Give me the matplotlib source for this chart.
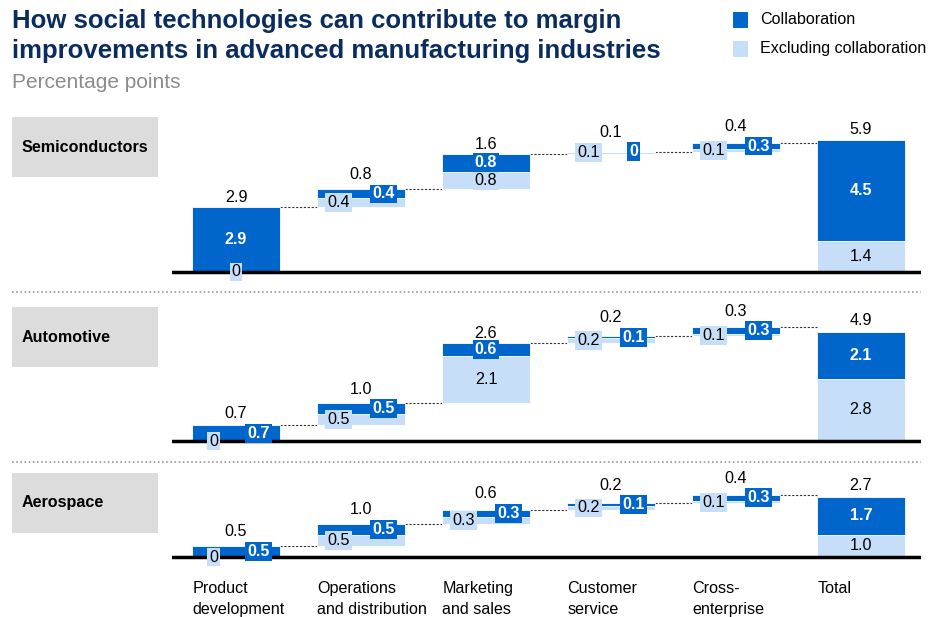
import matplotlib as mpl
import matplotlib.pyplot as plt
from matplotlib.patches import Rectangle
from matplotlib.lines import Line2D

mpl.use("Agg")
plt.rcParams["font.family"] = ["Liberation Sans", "DejaVu Sans"]

# ─── Data ───────────────────────────────────────────────────────────────────
CATEGORIES = ["Product\ndevelopment", "Operations\nand distribution",
              "Marketing\nand sales", "Customer\nservice", "Cross-\nenterprise",
              "Total"]
INDUSTRIES = ["Semiconductors", "Automotive", "Aerospace"]

# excluding collaboration (light) / collaboration (dark) per category
SEMI_EXCL = [0.0, 0.4, 0.8, 0.1, 0.1]
SEMI_COLLAB = [2.9, 0.4, 0.8, 0.0, 0.3]
SEMI_TOP = [2.9, 0.8, 1.6, 0.1, 0.4]
SEMI_TOTAL = (1.4, 4.5, 5.9)

AUTO_EXCL = [0.0, 0.5, 2.1, 0.2, 0.1]
AUTO_COLLAB = [0.7, 0.5, 0.6, 0.1, 0.3]
AUTO_TOP = [0.7, 1.0, 2.6, 0.2, 0.3]
AUTO_TOTAL = (2.8, 2.1, 4.9)

AERO_EXCL = [0.0, 0.5, 0.3, 0.2, 0.1]
AERO_COLLAB = [0.5, 0.5, 0.3, 0.1, 0.3]
AERO_TOP = [0.5, 1.0, 0.6, 0.2, 0.4]
AERO_TOTAL = (1.0, 1.7, 2.7)

# ─── Style ──────────────────────────────────────────────────────────────────
DARK = "#0066CC"
LIGHT = "#C6DEF8"
NAVY = "#0B2C5F"
W, H = 931, 617
PX_PER_UNIT = 22.3
BAR_W = 0.70
FS = 11.6

fig = plt.figure(figsize=(W / 100, H / 100), dpi=100)


def px_axes(left, top, right, bottom):
    return fig.add_axes([left / W, 1 - bottom / H, (right - left) / W, (bottom - top) / H])


def fmt(v):
    return "0" if v == 0 else f"{v:.1f}"


def label(ax, x, y, v, dark):
    ax.text(x, y, fmt(v), ha="center", va="center", fontsize=FS,
            color="white" if dark else "black",
            fontweight="bold" if dark else "normal", zorder=8,
            bbox=dict(boxstyle="square,pad=0.12", fc=DARK if dark else LIGHT, ec="none"))


def draw_panel(ax, excl, collab, tops, total, base_px, top_px, bottom_px):
    ax.set_xlim(-0.512, 5.48)
    ax.set_ylim(-(bottom_px - base_px) / PX_PER_UNIT, (base_px - top_px) / PX_PER_UNIT)
    ax.axis("off")

    lights = list(excl) + [total[0]]
    darks = list(collab) + [total[1]]
    top_vals = list(tops) + [total[2]]
    start = 0.0
    prev_top = None
    for i in range(len(lights)):
        b0 = 0.0 if i == len(lights) - 1 else start
        lo, da = lights[i], darks[i]
        ax.bar(i, lo, bottom=b0, width=BAR_W, color=LIGHT, edgecolor="white",
               linewidth=0.6, zorder=3)
        ax.bar(i, da, bottom=b0 + lo, width=BAR_W, color=DARK, edgecolor="white",
               linewidth=0.6, zorder=3)
        top = b0 + lo + da
        light_mid = b0 + lo / 2
        dark_mid = b0 + lo + da / 2
        if top_vals[i] >= 1.5:
            label(ax, i, light_mid, lo, False)
            label(ax, i, dark_mid, da, True)
            box_top = top
            gap = 0.15 if i == len(lights) - 1 else 0.1
        else:
            label(ax, i - 0.18, light_mid, lo, False)
            label(ax, i + 0.18, dark_mid, da, True)
            box_top = max(top, dark_mid + 0.42)
            gap = 0.12
        ax.text(i, box_top + gap, fmt(top_vals[i]), ha="center", va="bottom",
                fontsize=FS, color="black", zorder=8)
        if prev_top is not None:
            ax.plot([i - 1 + BAR_W / 2, i - BAR_W / 2], [prev_top, prev_top],
                    color="#333333", lw=0.8, ls=(0, (2, 1.5)), zorder=2)
        prev_top = top
        start = top

    ax.axhline(0, color="black", lw=2.5, zorder=6)


panels = [
    (SEMI_EXCL, SEMI_COLLAB, SEMI_TOP, SEMI_TOTAL, 272, 112, 290, 117),
    (AUTO_EXCL, AUTO_COLLAB, AUTO_TOP, AUTO_TOTAL, 441, 300, 460, 307),
    (AERO_EXCL, AERO_COLLAB, AERO_TOP, AERO_TOTAL, 557, 468, 575, 473),
]
axes = []
for (excl, collab, tops, total, base, tp, bt, box_y), name in zip(panels, INDUSTRIES):
    ax = px_axes(172, tp, 921, bt)
    draw_panel(ax, excl, collab, tops, total, base, tp, bt)
    axes.append(ax)
    # grey industry label box
    fig.patches.append(Rectangle((12 / W, 1 - (box_y + 60) / H), 146 / W, 60 / H,
                                 transform=fig.transFigure, facecolor="#DCDCDC",
                                 edgecolor="none", zorder=0))
    fig.text(22 / W, 1 - (box_y + 30) / H, name, fontsize=FS, fontweight="bold",
             color="black", ha="left", va="center")

# dotted separators between panels
for y in (292, 462):
    fig.add_artist(Line2D([12 / W, 921 / W], [1 - y / H, 1 - y / H], color="#999999",
                          lw=1.2, ls=(0, (1, 1.5)), transform=fig.transFigure))

# category labels under the last panel
ax3 = axes[-1]
for i, cat in enumerate(CATEGORIES):
    ax3.text(i - BAR_W / 2 + 0.0, -(581 - 557) / PX_PER_UNIT, cat, ha="left", va="top",
             fontsize=FS, linespacing=1.5, clip_on=False)

# title
fig.text(12 / W, 1 - 9 / H, "How social technologies can contribute to margin\n"
         "improvements in advanced manufacturing industries",
         fontsize=18.5, fontweight="bold", color=NAVY, ha="left", va="top", linespacing=1.3)
fig.text(12 / W, 1 - 83 / H, "Percentage points", fontsize=15, color="#8C8C8C",
         ha="left", va="center")

# legend
for y0, col, txt in ((12, DARK, "Collaboration"), (41, LIGHT, "Excluding collaboration")):
    fig.patches.append(Rectangle((733 / W, 1 - (y0 + 16) / H), 15 / W, 16 / H,
                                 transform=fig.transFigure, facecolor=col, edgecolor="none"))
    fig.text(760 / W, 1 - (y0 + 8) / H, txt, fontsize=FS, ha="left", va="center")

fig.savefig("out.png", dpi=100)
